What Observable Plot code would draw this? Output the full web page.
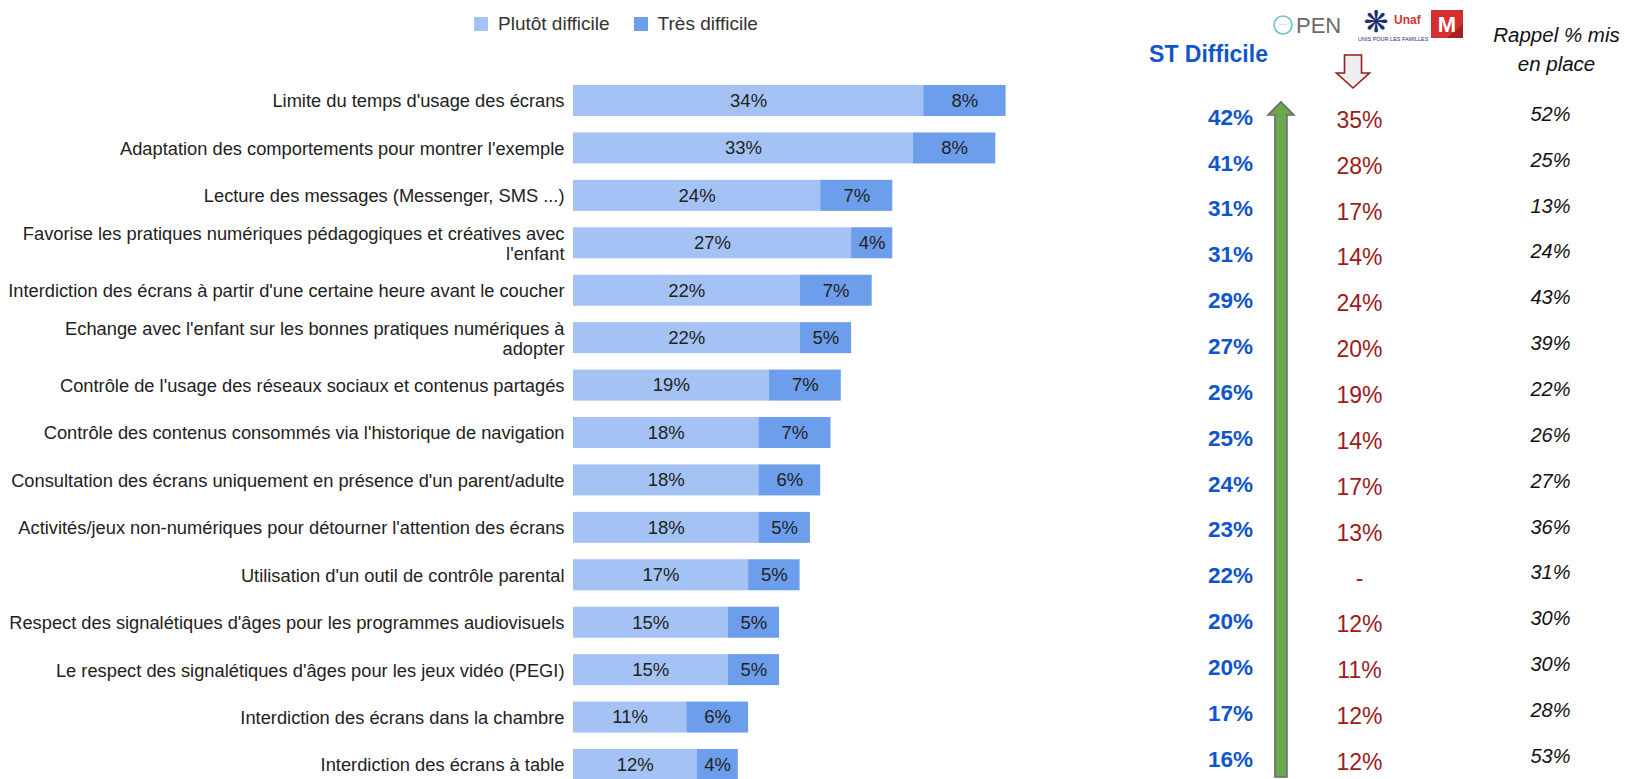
<!DOCTYPE html>
<html><head><meta charset="utf-8">
<script src="https://cdn.jsdelivr.net/npm/d3@7"></script>
<script src="https://cdn.jsdelivr.net/npm/@observablehq/plot@0.6"></script>
<style>
html,body{margin:0;padding:0;background:#fff;overflow:hidden;}
#wrap{position:relative;width:1630px;height:779px;font-family:"Liberation Sans",Arial,sans-serif;}
#left{position:absolute;left:0;top:0;width:1150px;}
#right{position:absolute;left:1150px;top:0;width:480px;}
#legend{height:46px;display:flex;align-items:center;}
.lg-swatches{font-family:"Liberation Sans",Arial,sans-serif !important;font-size:19px !important;color:#333 !important;margin:2px 0 0 474px !important;}
.lg-swatch{margin-right:24px !important;}
.lg-swatch svg{margin-right:10px !important;}
#logos{position:absolute;left:0;top:0;}
</style></head>
<body>
<div id="wrap">
  <div id="left"><div id="legend"></div><div id="bars"></div></div>
  <div id="right"></div>
  <svg id="logos" width="1630" height="50" style="pointer-events:none">
    <g font-family="Liberation Sans, Arial, sans-serif">
      <circle cx="1283" cy="25" r="9" fill="none" stroke="#6cc0cf" stroke-width="1.6"/>
      <text x="1283" y="27" text-anchor="middle" font-size="9" fill="#6cc0cf">···</text>
      <text x="1296" y="33" font-size="22" fill="#6b6b6b">PEN</text>
      <text x="1376" y="32" text-anchor="middle" font-size="30" fill="#1f2d72" font-family="DejaVu Sans">❋</text>
      <text x="1394" y="24" font-size="12" font-weight="bold" fill="#d9342b">Unaf</text>
      <text x="1358" y="41" font-size="5.5" fill="#1f2d72">UNIS POUR LES FAMILLES</text>
      <rect x="1431" y="10" width="32" height="28" fill="#d62f31"/>
      <path d="M1447,38 L1463,24 L1463,38 Z" fill="#a81f22"/>
      <text x="1447" y="32" text-anchor="middle" font-size="22" font-weight="bold" fill="#fff">M</text>
    </g>
  </svg>
</div>
<script>
const categories = [
  "Limite du temps d'usage des écrans",
  "Adaptation des comportements pour montrer l'exemple",
  "Lecture des messages (Messenger, SMS ...)",
  "Favorise les pratiques numériques pédagogiques et créatives avec l'enfant",
  "Interdiction des écrans à partir d'une certaine heure avant le coucher",
  "Echange avec l'enfant sur les bonnes pratiques numériques à adopter",
  "Contrôle de l'usage des réseaux sociaux et contenus partagés",
  "Contrôle des contenus consommés via l'historique de navigation",
  "Consultation des écrans uniquement en présence d'un parent/adulte",
  "Activités/jeux non-numériques pour détourner l'attention des écrans",
  "Utilisation d'un outil de contrôle parental",
  "Respect des signalétiques d'âges pour les programmes audiovisuels",
  "Le respect des signalétiques d'âges pour les jeux vidéo (PEGI)",
  "Interdiction des écrans dans la chambre",
  "Interdiction des écrans à table"
];
const tickLabels = [
  "Limite du temps d'usage des écrans",
  "Adaptation des comportements pour montrer l'exemple",
  "Lecture des messages (Messenger, SMS ...)",
  "Favorise les pratiques numériques pédagogiques et créatives avec\nl'enfant",
  "Interdiction des écrans à partir d'une certaine heure avant le coucher",
  "Echange avec l'enfant sur les bonnes pratiques numériques à\nadopter",
  "Contrôle de l'usage des réseaux sociaux et contenus partagés",
  "Contrôle des contenus consommés via l'historique de navigation",
  "Consultation des écrans uniquement en présence d'un parent/adulte",
  "Activités/jeux non-numériques pour détourner l'attention des écrans",
  "Utilisation d'un outil de contrôle parental",
  "Respect des signalétiques d'âges pour les programmes audiovisuels",
  "Le respect des signalétiques d'âges pour les jeux vidéo (PEGI)",
  "Interdiction des écrans dans la chambre",
  "Interdiction des écrans à table"
];
const seriesNames = ["Plutôt difficile", "Très difficile"];
const seriesColors = ["#a4c2f4", "#6d9eeb"];
const plutotDifficile = [34, 33, 24, 27, 22, 22, 19, 18, 18, 18, 17, 15, 15, 11, 12];
const tresDifficile   = [8, 8, 7, 4, 7, 5, 7, 7, 6, 5, 5, 5, 5, 6, 4];
const stDifficile     = [42, 41, 31, 31, 29, 27, 26, 25, 24, 23, 22, 20, 20, 17, 16];
const evolution       = [35, 28, 17, 14, 24, 20, 19, 14, 17, 13, null, 12, 11, 12, 12];
const rappelMisEnPlace = [52, 25, 13, 24, 43, 39, 22, 26, 27, 36, 31, 30, 30, 28, 53];
const columnKeys = ["st", "evol", "rappel"];

const FONT = "Liberation Sans, Arial, sans-serif";
const labelOf = new Map(categories.map((c, i) => [c, tickLabels[i]]));

const rows = categories.flatMap((c, i) => [
  {cat: c, serie: seriesNames[0], value: plutotDifficile[i]},
  {cat: c, serie: seriesNames[1], value: tresDifficile[i]}
]);

const bars = Plot.plot({
  width: 1150, height: 734,
  marginTop: 39, marginBottom: 0, marginLeft: 573, marginRight: 62,
  x: {domain: [0, 50], axis: null},
  y: {domain: categories, paddingInner: 0.346, paddingOuter: 0, round: false, axis: null, label: null},
  color: {domain: seriesNames, range: seriesColors},
  style: {fontFamily: FONT, fontSize: "18px", background: "transparent"},
  marks: [
    Plot.barX(rows, Plot.stackX({x: "value", y: "cat", fill: "serie"})),
    Plot.text(rows, Plot.stackX({x: "value", y: "cat", text: d => d.value + "%", fontSize: 18.5, fill: "#222"})),
    Plot.axisY({tickSize: 0, tickPadding: 9, fontSize: 18.3, lineHeight: 1.1, label: null, color: "#222",
      tickFormat: d => labelOf.get(d)})
  ]
});
document.getElementById("bars").append(bars);

const legend = Plot.legend({color: {domain: seriesNames, range: seriesColors}, legend: "swatches", swatchSize: 14, className: "lg"});
document.getElementById("legend").append(legend);

const table = categories.map((c, i) => ({cat: c, st: stDifficile[i], evol: evolution[i], rappel: rappelMisEnPlace[i]}));

// column layout: evol column sits left of its even slot; arrow sits between st and evol
const EVOL_DX = -31;

function arrows(index, scales) {
  const g = d3.create("svg:g");
  const xs = scales.x("st"), xv = scales.x("evol") + EVOL_DX;
  const xa = xs + (xv - xs) * 0.395;
  const yTop = scales.y(categories[0]) - 15;
  const yBot = scales.y(categories[categories.length - 1]) + 18;
  const sw = 6, hw = 13, hh = 13;
  g.append("path")
    .attr("d", `M${xa - sw},${yBot}L${xa - sw},${yTop + hh}L${xa - hw},${yTop + hh}L${xa},${yTop}L${xa + hw},${yTop + hh}L${xa + sw},${yTop + hh}L${xa + sw},${yBot}Z`)
    .attr("fill", "#6aa84f").attr("stroke", "#6b6b6b").attr("stroke-width", 1.6);
  const xe = xv - 6;
  const y0 = scales.y(categories[0]) - 62, y1 = y0 + 18, y2 = y0 + 33;
  g.append("path")
    .attr("d", `M${xe - 8.5},${y0}L${xe + 8.5},${y0}L${xe + 8.5},${y1}L${xe + 16.5},${y1}L${xe},${y2}L${xe - 16.5},${y1}L${xe - 8.5},${y1}Z`)
    .attr("fill", "#efefef").attr("stroke", "#9c1b1b").attr("stroke-width", 1.6);
  return g.node();
}

const side = Plot.plot({
  width: 480, height: 779,
  marginTop: 0, marginBottom: 0, marginLeft: 0, marginRight: 0,
  x: {type: "point", domain: columnKeys, range: [80, 400], padding: 0, round: false, axis: null},
  y: {type: "point", domain: categories, range: [117, 759], padding: 0, round: false, axis: null},
  style: {fontFamily: FONT, background: "transparent", overflow: "visible"},
  marks: [
    arrows,
    Plot.text(table, {x: () => "st", y: "cat", text: d => d.st + "%", fill: "#1155cc", fontWeight: "bold", fontSize: 22.5}),
    Plot.text(table, {x: () => "evol", y: "cat", text: d => d.evol == null ? "-" : d.evol + "%", fill: "#9c1b1b", fontSize: 23, dx: EVOL_DX, dy: 3}),
    Plot.text(table, {x: () => "rappel", y: "cat", text: d => d.rappel + "%", fill: "#111", fontStyle: "italic", fontSize: 20, dy: -3}),
    Plot.text(["ST Difficile"], {x: () => "st", frameAnchor: "top", lineAnchor: "middle", dy: 54, dx: -22, text: d => d, fill: "#1155cc", fontWeight: "bold", fontSize: 23}),
    Plot.text(["Rappel % mis\nen place"], {x: () => "rappel", frameAnchor: "top", lineAnchor: "middle", dy: 47, dx: 6, text: d => d, fill: "#111", fontStyle: "italic", fontSize: 20.5, lineHeight: 1.4})
  ]
});
document.getElementById("right").append(side);
</script>
</body></html>
